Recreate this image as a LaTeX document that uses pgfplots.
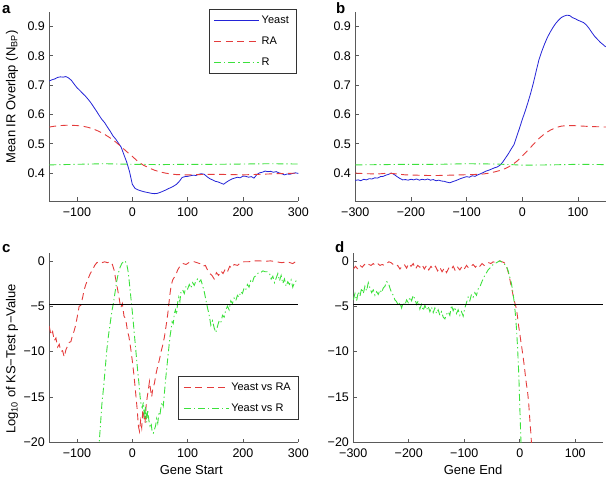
\documentclass[border=0pt]{standalone}
\usepackage{pgfplots}
\pgfplotsset{compat=1.18}
\usepackage{fontspec}
\setmainfont{Liberation Sans}
\definecolor{cYeast}{RGB}{35,35,215}
\definecolor{cRA}{RGB}{228,60,60}
\definecolor{cR}{RGB}{60,225,60}
\definecolor{axgray}{RGB}{90,90,90}
\pgfplotsset{
  panel/.style={
    scale only axis,
    axis x line=bottom, axis y line=left,
    axis line style={-, draw=axgray, line width=0.6bp},
    tick style={draw=axgray, line width=0.6bp},
    tick align=inside, major tick length=3.5bp,
    tick label style={font=\fontsize{12.5bp}{14bp}\selectfont, inner sep=1bp},
    xticklabel style={yshift=-5.5bp},
    yticklabel style={xshift=-3.2bp},
    label style={font=\fontsize{13bp}{15bp}\selectfont},
    legend style={font=\fontsize{11bp}{13bp}\selectfont, draw=black!80, line width=0.5bp,
      inner xsep=5bp, inner ysep=4.5bp, row sep=8bp},
    legend cell align=left,
    legend image code/.code={\draw[##1] (0bp,0bp) -- (45bp,0bp);},
    ylabel style={anchor=center},
    xlabel style={anchor=center},
  },
  yeast/.style={cYeast, line width=0.8bp},
  ra/.style={cRA, line width=0.9bp, dash pattern=on 7bp off 4.5bp},
  rr/.style={cR, line width=0.9bp, dash pattern=on 7bp off 3bp on 1.2bp off 3bp},
  thr/.style={black, line width=0.6bp},
}
\begin{document}
\begin{tikzpicture}
\useasboundingbox (0,0) rectangle (607bp,480bp);

% a
\begin{axis}[panel, at={(49.3bp,279bp)}, anchor=south west,
  width=249bp, height=189.3bp,
  xmin=-150, xmax=300, ymin=0.305, ymax=0.95,
  xtick={-100,0,100,200,300}, xticklabels={−100,0,100,200,300},
  ytick={0.4,0.5,0.6,0.7,0.8,0.9}, yticklabels={0.4,0.5,0.6,0.7,0.8,0.9},
  ylabel={Mean IR Overlap (N\textsubscript{BP})},
  ylabel style={at={(axis description cs:-0.15,0.55)}},
  legend style={at={(0.991,1.014)}, anchor=north east}]
\addplot[yeast] coordinates {(-150,0.714)(-145,0.718)(-140,0.721)(-135,0.726)(-130,0.728)(-125,0.727)(-120,0.729)(-115,0.724)(-110,0.716)(-105,0.703)(-100,0.691)(-95,0.682)(-90,0.672)(-85,0.663)(-80,0.652)(-75,0.64)(-70,0.626)(-65,0.612)(-60,0.597)(-55,0.583)(-50,0.572)(-45,0.557)(-40,0.543)(-35,0.527)(-30,0.516)(-25,0.502)(-20,0.488)(-15,0.462)(-10,0.437)(-5,0.405)(0,0.362)(5,0.348)(10,0.343)(15,0.340)(20,0.337)(25,0.335)(30,0.333)(35,0.331)(40,0.330)(45,0.331)(50,0.334)(55,0.338)(60,0.342)(65,0.347)(70,0.351)(75,0.356)(80,0.362)(85,0.372)(90,0.385)(95,0.388)(100,0.389)(105,0.391)(110,0.393)(115,0.392)(120,0.396)(125,0.398)(130,0.396)(135,0.388)(140,0.381)(145,0.377)(150,0.372)(155,0.370)(160,0.366)(165,0.362)(170,0.369)(175,0.375)(180,0.380)(185,0.383)(190,0.386)(195,0.384)(200,0.390)(205,0.389)(210,0.386)(215,0.388)(220,0.383)(225,0.395)(230,0.401)(235,0.403)(240,0.407)(245,0.405)(250,0.406)(255,0.403)(260,0.405)(265,0.401)(270,0.398)(275,0.394)(280,0.397)(285,0.396)(290,0.399)(295,0.401)(300,0.399)};
\addlegendentry{Yeast}
\addplot[ra] coordinates {(-150,0.557)(-140,0.560)(-130,0.562)(-120,0.563)(-110,0.563)(-100,0.562)(-90,0.560)(-80,0.556)(-70,0.550)(-60,0.542)(-50,0.532)(-40,0.520)(-30,0.506)(-20,0.490)(-10,0.473)(0,0.457)(10,0.440)(20,0.427)(30,0.418)(40,0.410)(50,0.404)(60,0.400)(70,0.397)(80,0.395)(100,0.394)(120,0.395)(150,0.396)(180,0.395)(200,0.394)(230,0.396)(260,0.398)(300,0.400)};
\addlegendentry{RA}
\addplot[rr] coordinates {(-150,0.428)(-100,0.430)(-50,0.432)(0,0.430)(50,0.429)(100,0.430)(150,0.430)(200,0.431)(250,0.432)(300,0.431)};
\addlegendentry{R}
\end{axis}

% b
\begin{axis}[panel, at={(355.3bp,279bp)}, anchor=south west,
  width=250.5bp, height=189.3bp,
  xmin=-300, xmax=150, ymin=0.305, ymax=0.95,
  xtick={-300,-200,-100,0,100}, xticklabels={−300,−200,−100,0,100},
  ytick={0.4,0.5,0.6,0.7,0.8,0.9}, yticklabels={0.4,0.5,0.6,0.7,0.8,0.9}]
\addplot[yeast] coordinates {(-300,0.375)(-295,0.377)(-290,0.374)(-285,0.379)(-280,0.377)(-275,0.381)(-270,0.380)(-265,0.384)(-260,0.383)(-255,0.388)(-250,0.389)(-245,0.393)(-240,0.396)(-235,0.400)(-230,0.395)(-225,0.388)(-220,0.382)(-215,0.377)(-210,0.378)(-205,0.376)(-200,0.379)(-195,0.377)(-190,0.380)(-185,0.376)(-180,0.379)(-175,0.377)(-170,0.380)(-165,0.376)(-160,0.378)(-155,0.374)(-150,0.376)(-145,0.373)(-140,0.372)(-135,0.369)(-130,0.367)(-125,0.371)(-120,0.374)(-115,0.378)(-110,0.382)(-105,0.385)(-100,0.388)(-95,0.386)(-90,0.391)(-85,0.389)(-80,0.394)(-75,0.398)(-70,0.402)(-65,0.407)(-60,0.410)(-55,0.414)(-50,0.418)(-45,0.421)(-40,0.427)(-35,0.438)(-30,0.452)(-25,0.466)(-20,0.482)(-15,0.497)(-10,0.525)(-5,0.553)(0,0.583)(5,0.610)(10,0.640)(15,0.672)(20,0.708)(25,0.748)(30,0.787)(35,0.815)(40,0.840)(45,0.862)(50,0.880)(55,0.896)(60,0.910)(65,0.921)(70,0.930)(75,0.935)(80,0.938)(85,0.937)(90,0.930)(95,0.926)(100,0.921)(105,0.917)(110,0.913)(115,0.905)(120,0.893)(125,0.879)(130,0.866)(135,0.856)(140,0.846)(145,0.838)(150,0.830)};
\addplot[ra] coordinates {(-300,0.400)(-280,0.398)(-260,0.397)(-240,0.400)(-230,0.398)(-210,0.394)(-190,0.393)(-170,0.392)(-150,0.392)(-130,0.393)(-110,0.394)(-90,0.395)(-70,0.397)(-60,0.400)(-50,0.404)(-40,0.409)(-30,0.416)(-20,0.426)(-10,0.440)(0,0.458)(10,0.478)(20,0.498)(30,0.518)(40,0.534)(50,0.546)(60,0.555)(70,0.560)(80,0.562)(90,0.562)(100,0.561)(120,0.559)(150,0.557)};
\addplot[rr] coordinates {(-300,0.428)(-250,0.429)(-200,0.430)(-150,0.430)(-100,0.432)(-50,0.431)(-20,0.429)(0,0.427)(50,0.428)(100,0.430)(150,0.429)};
\end{axis}

% c
\begin{axis}[panel, at={(49.3bp,37.7bp)}, anchor=south west,
  width=249bp, height=189.6bp,
  xmin=-150, xmax=300, ymin=-20, ymax=0.9,
  xtick={-100,0,100,200,300}, xticklabels={−100,0,100,200,300},
  ytick={-20,-15,-10,-5,0}, yticklabels={−20,−15,−10,−5,0},
  xlabel={Gene Start},
  xlabel style={at={(axis description cs:0.57,-0.145)}},
  ylabel={Log\textsubscript{10} of KS−Test p−Value},
  ylabel style={at={(axis description cs:-0.15,0.44)}},
  legend style={at={(0.999,0.118)}, anchor=south east}]
\addplot[ra] coordinates {(-150,-7.2)(-147,-8.2)(-144,-7.8)(-141,-8.8)(-138,-8.5)(-135,-9.5)(-132,-9.2)(-129,-10.0)(-126,-9.9)(-123,-10.6)(-120,-9.8)(-117,-9.4)(-114,-9.0)(-111,-8.9)(-108,-8.2)(-105,-7.7)(-102,-7.0)(-99,-6.0)(-96,-5.0)(-93,-4.9)(-90,-4.1)(-87,-3.2)(-84,-2.6)(-80,-2.0)(-76,-1.4)(-72,-1.0)(-68,-0.5)(-64,-0.2)(-60,-0.1)(-55,-0.2)(-50,-0.1)(-45,-0.2)(-40,-0.1)(-36,-0.4)(-33,-1.0)(-30,-2.0)(-27,-3.0)(-24,-4.0)(-21,-5.2)(-18,-4.7)(-15,-6.1)(-12,-6.4)(-9,-7.6)(-6,-8.4)(-3,-9.6)(0,-11.0)(3,-12.6)(6,-14.5)(9,-16.5)(11,-18.2)(13,-18.8)(15,-17.6)(17,-18.4)(19,-16.4)(21,-17.2)(23,-17.9)(25,-16.0)(27,-15.0)(29,-14.2)(31,-13.3)(33,-14.2)(35,-15.0)(37,-14.1)(40,-13.5)(43,-12.4)(46,-11.6)(49,-10.9)(52,-10.0)(55,-9.3)(58,-8.4)(61,-7.2)(64,-5.9)(66,-4.8)(68,-3.7)(70,-2.8)(73,-2.1)(76,-1.8)(79,-1.5)(82,-1.0)(85,-0.7)(88,-0.5)(92,-0.3)(97,-0.4)(102,-0.2)(107,-0.1)(112,-0.1)(117,-0.2)(122,-0.3)(127,-0.6)(132,-0.5)(136,-1.0)(140,-1.4)(144,-1.6)(148,-2.0)(152,-1.3)(156,-1.6)(160,-1.1)(164,-1.4)(168,-0.9)(172,-1.2)(176,-0.6)(180,-0.8)(184,-0.4)(190,-0.5)(196,-0.2)(202,-0.1)(210,-0.1)(220,0)(230,0)(240,-0.05)(250,0)(260,-0.1)(270,-0.2)(280,-0.1)(290,-0.3)(295,-0.1)(300,0)};
\addlegendentry{Yeast vs RA}
\addplot[rr] coordinates {(-61,-21)(-58,-18.5)(-55,-15.8)(-52,-14.0)(-49,-11.9)(-46,-9.8)(-43,-8.2)(-40,-6.9)(-37,-5.6)(-34,-4.6)(-31,-3.4)(-28,-2.2)(-25,-1.3)(-22,-0.7)(-19,-0.3)(-16,-0.1)(-13,0)(-10,-0.4)(-8,-1.0)(-6,-2.0)(-4,-3.2)(-2,-4.4)(0,-5.6)(2,-6.9)(4,-8.3)(6,-9.6)(8,-11.0)(10,-12.3)(12,-13.5)(14,-14.9)(16,-15.9)(18,-16.2)(20,-15.6)(22,-17.4)(24,-16.0)(26,-17.8)(28,-16.4)(30,-17.6)(32,-18.2)(34,-17.9)(36,-18.9)(38,-19.0)(40,-18.6)(42,-18.2)(44,-17.4)(46,-17.9)(48,-16.8)(50,-17.0)(52,-16.0)(54,-15.6)(56,-16.0)(58,-14.6)(60,-13.2)(62,-12.0)(64,-10.8)(66,-9.6)(68,-8.4)(70,-7.6)(72,-6.7)(74,-6.9)(76,-5.8)(78,-5.4)(80,-5.9)(82,-4.6)(84,-4.0)(86,-4.5)(88,-3.4)(91,-3.2)(94,-3.6)(97,-2.8)(100,-3.1)(103,-2.6)(106,-3.0)(109,-2.4)(112,-2.7)(115,-2.2)(118,-2.0)(121,-2.3)(124,-2.1)(127,-2.7)(130,-3.4)(133,-4.3)(136,-5.2)(139,-6.0)(142,-7.1)(145,-6.6)(148,-7.4)(151,-7.9)(154,-7.2)(157,-6.6)(160,-6.8)(163,-6.0)(166,-6.2)(169,-5.4)(172,-5.0)(175,-5.4)(178,-4.4)(181,-4.7)(184,-4.1)(187,-4.4)(190,-3.8)(193,-4.0)(196,-3.4)(199,-3.6)(202,-3.0)(205,-3.2)(208,-2.6)(211,-2.9)(214,-2.2)(217,-2.4)(220,-1.8)(224,-1.6)(228,-1.3)(232,-1.3)(236,-1.1)(240,-1.2)(244,-1.2)(248,-1.4)(251,-2.0)(254,-1.7)(257,-2.4)(260,-1.9)(263,-1.4)(266,-2.2)(269,-1.6)(272,-2.5)(275,-2.0)(278,-2.8)(281,-2.3)(284,-2.6)(287,-2.1)(290,-2.9)(293,-2.4)(296,-2.2)(300,-2.0)};
\addlegendentry{Yeast vs R}
\addplot[thr, forget plot] coordinates {(-150,-4.8)(300,-4.8)};
\end{axis}

% d
\begin{axis}[panel, at={(353.3bp,37.7bp)}, anchor=south west,
  width=249.7bp, height=189.6bp,
  xmin=-300, xmax=150, ymin=-20, ymax=0.9,
  xtick={-300,-200,-100,0,100}, xticklabels={−300,−200,−100,0,100},
  ytick={-20,-15,-10,-5,0}, yticklabels={−20,−15,−10,−5,0},
  xlabel={Gene End},
  xlabel style={at={(axis description cs:0.48,-0.145)}}]
\addplot[ra] coordinates {(-300,-0.9)(-296,-0.6)(-292,-0.9)(-288,-0.5)(-284,-0.7)(-280,-0.4)(-276,-0.6)(-272,-0.4)(-268,-0.5)(-264,-0.3)(-260,-0.5)(-256,-0.3)(-252,-0.5)(-248,-0.4)(-244,-0.5)(-240,-0.3)(-236,-0.1)(-232,-0.2)(-228,-0.4)(-224,-0.6)(-220,-0.5)(-216,-0.9)(-212,-0.6)(-208,-0.4)(-204,-0.8)(-200,-0.3)(-196,-0.6)(-192,-0.3)(-188,-0.9)(-184,-0.5)(-180,-0.7)(-176,-0.4)(-172,-0.9)(-168,-0.5)(-164,-1.0)(-160,-0.6)(-156,-0.9)(-152,-0.6)(-148,-1.1)(-144,-0.7)(-140,-1.2)(-136,-0.8)(-132,-1.3)(-128,-0.8)(-124,-1.0)(-120,-0.6)(-116,-1.1)(-112,-0.7)(-108,-1.0)(-104,-0.6)(-100,-0.9)(-96,-0.5)(-92,-0.8)(-88,-0.6)(-84,-0.4)(-80,-0.7)(-76,-0.4)(-72,-0.6)(-68,-0.3)(-64,-0.5)(-60,-0.3)(-56,-0.2)(-52,-0.3)(-48,-0.1)(-44,-0.2)(-40,-0.1)(-36,0)(-32,-0.1)(-28,-0.2)(-24,-0.6)(-21,-1.2)(-18,-2.0)(-15,-2.9)(-12,-3.8)(-9,-4.6)(-6,-5.3)(-4,-6.2)(-2,-7.2)(0,-8.0)(2,-8.9)(4,-9.7)(6,-10.6)(8,-11.5)(10,-12.6)(12,-13.6)(14,-14.4)(16,-15.6)(18,-17.4)(20,-19.0)(22,-21)};
\addplot[rr] coordinates {(-300,-4.3)(-297,-3.6)(-294,-4.4)(-291,-3.4)(-288,-3.9)(-285,-3.0)(-282,-3.6)(-279,-2.8)(-276,-3.3)(-273,-2.4)(-270,-3.0)(-267,-3.5)(-264,-3.2)(-261,-3.8)(-258,-3.4)(-255,-3.7)(-252,-3.2)(-249,-3.5)(-246,-3.0)(-243,-2.8)(-240,-2.3)(-237,-2.4)(-234,-3.0)(-231,-3.5)(-228,-3.8)(-225,-4.3)(-222,-4.5)(-219,-4.9)(-216,-4.6)(-213,-5.2)(-210,-4.6)(-207,-4.9)(-204,-4.3)(-201,-4.6)(-198,-4.0)(-195,-4.4)(-192,-3.8)(-189,-4.2)(-186,-4.8)(-183,-4.4)(-180,-5.3)(-177,-4.8)(-174,-5.5)(-171,-4.9)(-168,-5.4)(-165,-5.0)(-162,-5.6)(-159,-5.1)(-156,-5.7)(-153,-5.2)(-150,-5.8)(-147,-5.4)(-144,-6.0)(-141,-5.6)(-138,-6.2)(-135,-6.4)(-132,-5.9)(-129,-5.6)(-126,-6.0)(-123,-4.9)(-120,-5.5)(-117,-5.1)(-114,-5.8)(-111,-5.4)(-108,-6.0)(-105,-5.6)(-102,-6.1)(-99,-5.2)(-96,-4.6)(-93,-4.0)(-90,-4.4)(-87,-3.7)(-84,-4.0)(-81,-3.5)(-78,-3.8)(-75,-3.1)(-72,-2.9)(-69,-2.4)(-66,-2.0)(-63,-1.6)(-60,-1.3)(-57,-1.0)(-54,-0.8)(-51,-0.6)(-48,-0.4)(-45,-0.3)(-42,-0.2)(-39,-0.1)(-36,0)(-33,-0.1)(-30,-0.2)(-27,-0.4)(-24,-0.6)(-21,-1.1)(-18,-1.8)(-15,-2.5)(-12,-3.6)(-10,-4.6)(-8,-5.8)(-6,-7.4)(-4,-9.5)(-2,-12.2)(-1,-14.0)(0,-16.0)(1,-17.8)(2,-19.7)(3,-21)};
\addplot[thr] coordinates {(-300,-4.8)(150,-4.8)};
\end{axis}

\node[anchor=base west, font=\bfseries\fontsize{15bp}{17bp}\selectfont, inner sep=0] at (2bp,466bp) {a};
\node[anchor=base west, font=\bfseries\fontsize{15bp}{17bp}\selectfont, inner sep=0] at (336bp,466bp) {b};
\node[anchor=base west, font=\bfseries\fontsize{15bp}{17bp}\selectfont, inner sep=0] at (2bp,227bp) {c};
\node[anchor=base west, font=\bfseries\fontsize{15bp}{17bp}\selectfont, inner sep=0] at (335bp,227bp) {d};
\end{tikzpicture}
\end{document}
